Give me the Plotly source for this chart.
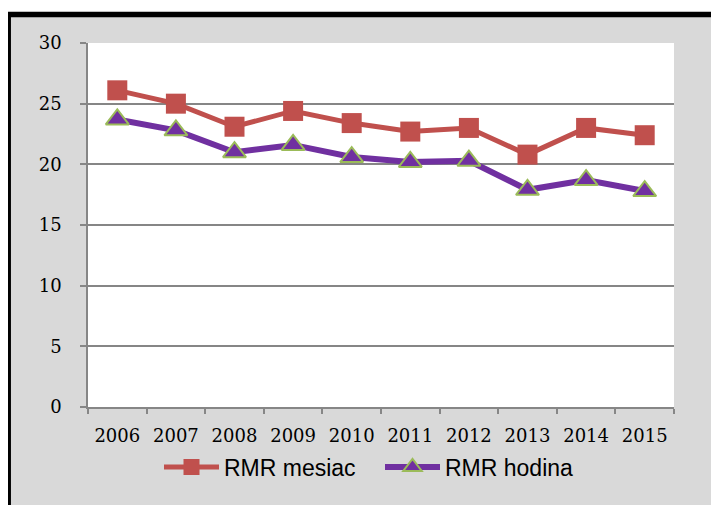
import plotly.graph_objects as go

years = ["2006", "2007", "2008", "2009", "2010", "2011", "2012", "2013", "2014", "2015"]
rmr_mesiac = [26.1, 25.0, 23.1, 24.4, 23.4, 22.7, 23.0, 20.8, 23.0, 22.4]
rmr_hodina = [23.7, 22.8, 21.0, 21.6, 20.6, 20.2, 20.3, 17.9, 18.7, 17.8]
y_ticks = [0, 5, 10, 15, 20, 25, 30]

# page has an 8px body margin, so figure coords = window coords - 8
OFF = 8
W, H = 719, 505
ML, MT = 88 - OFF, 43 - OFF
PW, PH = 674 - 88, 407 - 43
MR, MB = W - ML - PW, H - MT - PH

def px_x(p):
    return (p - OFF - ML) / PW

def px_y(p):
    return (MT + PH - (p - OFF)) / PH

fig = go.Figure()
fig.add_trace(go.Scatter(
    x=years, y=rmr_mesiac, name="RMR mesiac", mode="lines+markers",
    line=dict(color="#c0504d", width=5),
    marker=dict(symbol="square", size=20, color="#c0504d",
                line=dict(color="#c0504d", width=0)),
))
fig.add_trace(go.Scatter(
    x=years, y=rmr_hodina, name="RMR hodina", mode="lines+markers",
    line=dict(color="#7030a0", width=6),
    marker=dict(symbol="triangle-up", size=20, color="#7030a0",
                line=dict(color="#9bbb59", width=2)),
))

fig.add_shape(type="rect", xref="paper", yref="paper",
              x0=px_x(8.2), x1=px_x(780), y0=px_y(14.5), y1=px_y(580),
              fillcolor="#d9d9d9", line=dict(color="black", width=5.5),
              layer="below")
fig.add_shape(type="rect", xref="x domain", yref="y domain",
              x0=0, x1=1, y0=0, y1=1,
              fillcolor="white", line=dict(width=0), layer="below")

fig.update_layout(
    width=W, height=H,
    margin=dict(l=ML, r=MR, t=MT, b=MB),
    paper_bgcolor="white",
    plot_bgcolor="rgba(0,0,0,0)",
    showlegend=True,
    legend=dict(orientation="h", x=px_x(159), xanchor="left", y=px_y(467), yanchor="middle",
                font=dict(family="Liberation Sans", size=23, color="black"),
                bgcolor="rgba(0,0,0,0)", itemwidth=55,
                entrywidth=151, entrywidthmode="pixels"),
)
fig.update_xaxes(
    type="category", range=[-0.5, 9.5],
    showline=True, linecolor="#868686", linewidth=1.5,
    ticks="outside", tickson="boundaries", ticklen=5, tickcolor="#868686", tickwidth=1.5,
    showgrid=False, ticklabelstandoff=12,
    tickfont=dict(family="DejaVu Serif", size=18, color="black"),
)
fig.update_yaxes(
    range=[0, 30], tickvals=y_ticks,
    showline=True, linecolor="#868686", linewidth=1.5,
    ticks="outside", ticklen=6, tickcolor="#868686", tickwidth=1.5,
    showgrid=True, gridcolor="#868686", gridwidth=1.5, zeroline=False,
    ticklabelstandoff=15,
    tickfont=dict(family="DejaVu Serif", size=18, color="black"),
)

fig.write_html("out.html")
